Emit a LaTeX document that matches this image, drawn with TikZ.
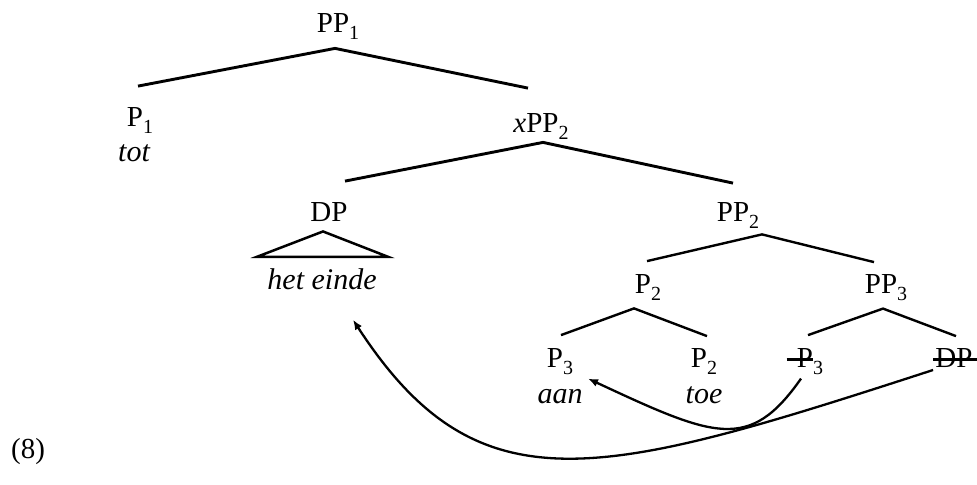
\documentclass[tikz,border=0pt]{standalone}
\usepackage{fontspec}
\setmainfont{Liberation Serif}
\usetikzlibrary{arrows.meta}
\newcommand{\lsub}[1]{\raisebox{-3.5pt}{\fontsize{10}{11}\selectfont #1}}

\begin{document}
\begin{tikzpicture}[x = 0.5pt, y = -0.5pt,
	lbl/.style = {inner sep = 0pt, anchor = base, font = \fontsize{14.5}{16}\selectfont},
	word/.style = {lbl, font = \fontsize{15}{17}\selectfont\itshape},
	upper/.style = {line width = 1.45pt},
	branch/.style = {line width = 1.2pt},
	strike/.style = {line width = 1.5pt},
	move/.style = {line width = 1.15pt, -{Latex[length = 5pt, width = 4pt]}}]

	\useasboundingbox (0, 0) rectangle (977, 485);

	% categories
	\node[lbl] (pp1)  at (338,  33) {PP\lsub{1}};
	\node[lbl] (p1)   at (140, 127) {P\lsub{1}};
	\node[lbl] (xpp2) at (541, 133) {\textit{x}PP\lsub{2}};
	\node[lbl] (dp)   at (329, 222) {DP};
	\node[lbl] (pp2)  at (738, 222) {PP\lsub{2}};
	\node[lbl] (p2)   at (648, 294) {P\lsub{2}};
	\node[lbl] (pp3)  at (886, 294) {PP\lsub{3}};
	\node[lbl] (p3)   at (560, 367) {P\lsub{3}};
	\node[lbl] (p2b)  at (704, 367) {P\lsub{2}};
	\node[lbl] (p3x)  at (810, 367) {P\lsub{3}};
	\node[lbl] (dpx)  at (954, 367) {DP};

	% words
	\node[word] (tot) at (134, 162) {tot};
	\node[word] (het) at (322, 290) {het einde};
	\node[word] (aan) at (560, 403) {aan};
	\node[word] (toe) at (704, 403) {toe};

	\node[lbl] (ex) at (28, 458) {(8)};

	% branches
	\draw[upper] ([xshift = -6.5pt, yshift = 12.75pt]xpp2.north) -- ([xshift = -1.5pt, yshift = -4pt]pp1.south) -- ([xshift = -1pt, yshift = 10.75pt]p1.north);
	\draw[upper] ([xshift = 8pt, yshift = 10.75pt]dp.north) -- ([xshift = 1pt, yshift = -1pt]xpp2.south) -- ([xshift = -2.5pt, yshift = 9.75pt]pp2.north);
	\draw[branch] ([xshift = -0.5pt, yshift = 6.75pt]p2.north) -- ([xshift = 12pt, yshift = -2.5pt]pp2.south) -- ([xshift = -6pt, yshift = 6.25pt]pp3.north);
	\draw[branch] ([xshift = 0.5pt, yshift = 6.25pt]p3.north) -- ([xshift = -7pt, yshift = -3.5pt]p2.south) -- ([xshift = 1.5pt, yshift = 5.75pt]p2b.north);
	\draw[branch] ([xshift = -1pt, yshift = 6.25pt]p3x.north) -- ([xshift = -1.5pt, yshift = -3.5pt]pp3.south) -- ([xshift = 1pt, yshift = 5.75pt]dpx.north);

	% triangle over het einde
	\draw[line width = 1.25pt] ([xshift = -5pt, yshift = 6pt]het.north west) -- ([xshift = -3pt, yshift = -4.5pt]dp.south) -- ([xshift = 5.5pt, yshift = 6pt]het.north east) -- cycle;

	% deleted copies
	\draw[strike] ([xshift = -5pt, yshift = 4pt]p3x.base west) -- ++(13pt, 0);
	\draw[strike] ([xshift = -1pt, yshift = 4pt]dpx.base west) -- ([xshift = 3pt, yshift = 4pt]dpx.base east);

	% movement
	\draw[move] ([xshift = -1pt, yshift = -1.5pt]dpx.base west) to[out = 198, in = -57, out distance = 175pt, in distance = 115pt] ([xshift = 15.5pt, yshift = -14.5pt]het.south);
	\draw[move] ([xshift = -4.5pt, yshift = -2pt]p3x.south) to[out = 235, in = -25, out distance = 45pt, in distance = 70pt] ([xshift = 14pt, yshift = -2pt]p3.south);

\end{tikzpicture}
\end{document}
